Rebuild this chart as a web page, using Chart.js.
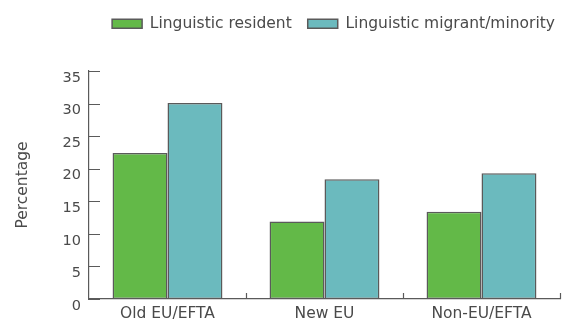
<!DOCTYPE html>
<html>
<head>
<meta charset="utf-8">
<script src="https://cdn.jsdelivr.net/npm/chart.js@4/dist/chart.umd.min.js"></script>
<style>
  html, body { margin: 0; padding: 0; background: #fff; }
  #wrap { width: 567px; height: 320px; }
</style>
</head>
<body>
<div id="wrap"><canvas id="chart" width="567" height="320"></canvas></div>
<script>
const categories = ["Old EU/EFTA", "New EU", "Non-EU/EFTA"];
const residentValues = [22.4, 11.9, 13.4];
const migrantValues = [30.1, 18.4, 19.3];
const yTicks = [0, 5, 10, 15, 20, 25, 30, 35];

const axisColor = "#5a5a5a";
const textColor = "#4a4a4a";
const font = "'DejaVu Sans', sans-serif";

// short tick marks pointing into the plot, like the print style
const innerTicks = {
  id: "innerTicks",
  afterDraw(chart){
    const ctx = chart.ctx;
    const y = chart.scales.y;
    const area = chart.chartArea;
    const step = (area.right - area.left) / categories.length;
    ctx.save();
    ctx.strokeStyle = axisColor;
    ctx.lineWidth = 1.2;
    ctx.beginPath();
    yTicks.forEach((v)=>{
      const py = Math.round(y.getPixelForValue(v)) + 0.5;
      ctx.moveTo(area.left, py);
      ctx.lineTo(area.left + 11, py);
    });
    for(let i = 1; i <= categories.length; i++){
      const px = Math.round(area.left + step * i) + 0.5;
      ctx.moveTo(px, area.bottom);
      ctx.lineTo(px, area.bottom - 6);
    }
    ctx.stroke();
    ctx.restore();
  }
};

// fixed legend band height, legend row pushed a little further right
const legendBand = {
  id: "legendBand",
  beforeUpdate(chart){
    const legend = chart.legend;
    if(!legend || legend._patched) return;
    const fit = legend.fit;
    legend.fit = function(){
      fit.call(this);
      this.height = 71;
    };
    legend._patched = true;
  },
  afterLayout(chart){
    chart.legend.left += 11;
    chart.legend.right += 11;
  }
};

const ctx = document.getElementById("chart").getContext("2d");
new Chart(ctx, {
  type: "bar",
  data: {
    labels: categories,
    datasets: [
      {
        label: "Linguistic resident",
        data: residentValues,
        backgroundColor: "#63b948",
        borderColor: axisColor,
        borderWidth: 1.5,
        borderSkipped: false
      },
      {
        label: "Linguistic migrant/minority",
        data: migrantValues,
        backgroundColor: "#6bbabe",
        borderColor: axisColor,
        borderWidth: 1.5,
        borderSkipped: false
      }
    ]
  },
  options: {
    responsive: false,
    animation: false,
    categoryPercentage: 0.7,
    barPercentage: 1.0,
    layout: { padding: { left: 0, right: 7, top: 0, bottom: 0 } },
    plugins: {
      legend: {
        position: "top",
        align: "end",
        labels: {
          boxWidth: 30,
          boxHeight: 9,
          padding: 16,
          color: textColor,
          font: { family: font, size: 15.5 }
        }
      },
      tooltip: { enabled: false }
    },
    scales: {
      x: {
        grid: { display: false, drawTicks: false },
        border: { display: true, color: axisColor, width: 1.2 },
        ticks: {
          color: textColor,
          padding: 6,
          font: { family: font, size: 15.5 }
        },
        afterFit(scale){ scale.height = 21; }
      },
      y: {
        min: 0,
        max: 35,
        afterBuildTicks(scale){ scale.ticks = yTicks.map((v)=>({ value: v })); },
        grid: { display: false, drawTicks: false },
        border: { display: true, color: axisColor, width: 1.2 },
        ticks: {
          color: textColor,
          padding: 8,
          labelOffset: 7,
          font: { family: font, size: 14.5 }
        },
        title: {
          display: true,
          text: "Percentage",
          color: textColor,
          padding: { top: 14, bottom: 0 },
          font: { family: font, size: 15.5 }
        },
        afterFit(scale){ scale.width = 89; }
      }
    }
  },
  plugins: [innerTicks, legendBand]
});
</script>
</body>
</html>
